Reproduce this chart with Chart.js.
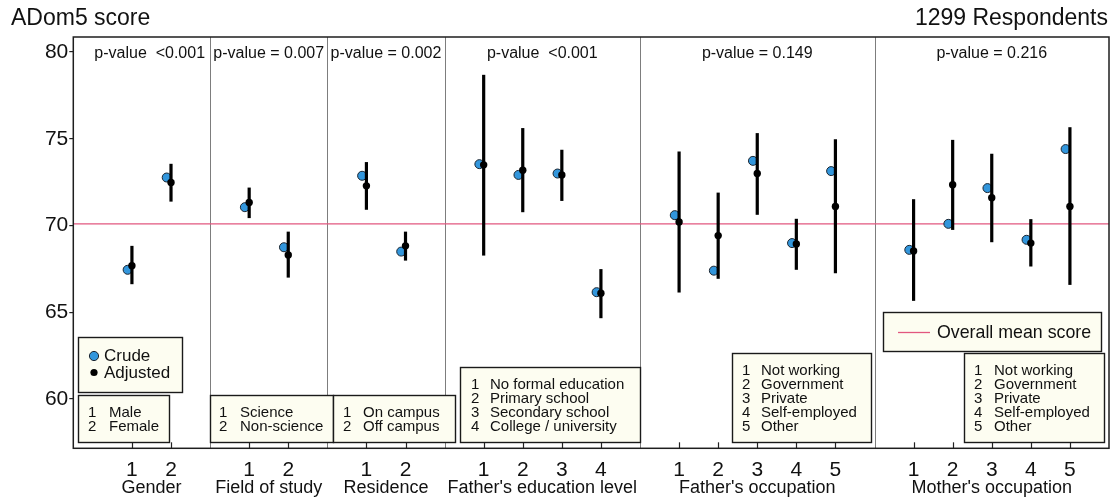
<!DOCTYPE html>
<html>
<head>
<meta charset="utf-8">
<script src="https://cdn.jsdelivr.net/npm/chart.js@4/dist/chart.umd.min.js"></script>
<style>
  html, body { margin: 0; padding: 0; background: #ffffff; }
  #wrap { width: 1119px; height: 499px; position: relative; }
</style>
</head>
<body>
<div id="wrap"><canvas id="chart" width="1119" height="499"></canvas></div>
<script>
// ---- data ----
const groupNames = ['Gender', 'Field of study', 'Residence', "Father's education level", "Father's occupation", "Mother's occupation"];
const groupSizes = [2, 2, 2, 4, 5, 5];
const pValueLabels = ['p-value  <0.001', 'p-value = 0.007', 'p-value = 0.002', 'p-value  <0.001', 'p-value = 0.149', 'p-value = 0.216'];
const levelLabels = ['1', '2', '1', '2', '1', '2', '1', '2', '3', '4', '1', '2', '3', '4', '5', '1', '2', '3', '4', '5'];
const crudeScores = [67.45, 72.77, 71.06, 68.75, 72.87, 68.50, 73.54, 72.92, 73.00, 66.16, 70.60, 67.40, 73.73, 68.99, 73.14, 68.60, 70.10, 72.16, 69.18, 74.41];
const adjustedScores = [67.69, 72.48, 71.33, 68.31, 72.29, 68.83, 73.50, 73.19, 72.92, 66.10, 70.21, 69.42, 73.00, 68.94, 71.10, 68.54, 72.35, 71.60, 68.99, 71.10];
const ciLower = [66.62, 71.38, 70.43, 67.00, 70.91, 67.98, 68.27, 70.77, 71.42, 64.66, 66.14, 66.93, 70.62, 67.45, 67.25, 65.66, 69.75, 69.04, 67.64, 66.58];
const ciUpper = [68.83, 73.56, 72.19, 69.65, 73.66, 69.65, 78.69, 75.62, 74.37, 67.49, 74.27, 71.90, 75.33, 70.39, 74.98, 71.52, 74.94, 74.14, 70.37, 75.67];
const overallMean = 70.1;
const yTickValues = [60, 65, 70, 75, 80];
const genderKey = ['Male', 'Female'];
const fieldKey = ['Science', 'Non-science'];
const residenceKey = ['On campus', 'Off campus'];
const fatherEduKey = ['No formal education', 'Primary school', 'Secondary school', 'College / university'];
const fatherOccKey = ['Not working', 'Government', 'Private', 'Self-employed', 'Other'];
const motherOccKey = ['Not working', 'Government', 'Private', 'Self-employed', 'Other'];
const yAxisTitle = 'ADom5 score';
const respondentsLabel = '1299 Respondents';

// ---- layout of categories along the x axis ----
const positions = [];
const dividers = [];
const groupCenters = [];
let cursor = 0.5;
groupSizes.forEach((n, g) => {
  const start = positions.length;
  for (let i = 0; i < n; i++) positions.push(cursor + 1 + i);
  groupCenters.push((positions[start] + positions[start + n - 1]) / 2);
  cursor += n + 1;
  if (g < groupSizes.length - 1) dividers.push(cursor);
});
const xMax = cursor;
const crudeOffset = -0.11;

const FONT = '"Liberation Sans", Arial, Helvetica, sans-serif';
const BLUE = '#3296dc';
const MEAN_RED = '#e2577f';
const BOX_FILL = '#fdfdf1';

const crudePoints = crudeScores.map((v, i) => ({ x: positions[i] + crudeOffset, y: v }));
const adjustedPoints = adjustedScores.map((v, i) => ({ x: positions[i], y: v }));

// key boxes: [left, top, right, bottom] in canvas px, with their lines
const keyBoxes = [
  { rect: [78, 395, 169, 442], numX: 88, textX: 109, lines: genderKey },
  { rect: [210, 395, 333, 442], numX: 219, textX: 240, lines: fieldKey },
  { rect: [333, 395, 455, 442], numX: 343, textX: 363, lines: residenceKey },
  { rect: [460, 367, 640, 442], numX: 471, textX: 490, lines: fatherEduKey },
  { rect: [732, 353, 871, 442], numX: 742, textX: 761, lines: fatherOccKey },
  { rect: [964, 353, 1104, 442], numX: 974, textX: 994, lines: motherOccKey }
];

const decorations = {
  id: 'decorations',
  beforeDatasetsDraw(chart) {
    const { ctx, chartArea: a, scales: { x, y } } = chart;
    ctx.save();
    // panel dividers
    ctx.strokeStyle = '#7d7d7d';
    ctx.lineWidth = 1;
    dividers.forEach(d => {
      const px = Math.round(x.getPixelForValue(d)) + 0.5;
      ctx.beginPath(); ctx.moveTo(px, a.top); ctx.lineTo(px, a.bottom); ctx.stroke();
    });
    // overall mean line
    ctx.strokeStyle = MEAN_RED;
    ctx.lineWidth = 1.3;
    const my = y.getPixelForValue(overallMean);
    ctx.beginPath(); ctx.moveTo(a.left, my); ctx.lineTo(a.right, my); ctx.stroke();
    ctx.restore();
  },
  afterDatasetDraw(chart, args) {
    if (chart.data.datasets[args.index].label !== 'Crude') return;
    const { ctx, scales: { x, y } } = chart;
    ctx.save();
    ctx.strokeStyle = '#000';
    ctx.lineWidth = 3.2;
    ctx.lineCap = 'butt';
    positions.forEach((p, i) => {
      const px = x.getPixelForValue(p);
      ctx.beginPath();
      ctx.moveTo(px, y.getPixelForValue(ciLower[i]));
      ctx.lineTo(px, y.getPixelForValue(ciUpper[i]));
      ctx.stroke();
    });
    ctx.restore();
  },
  afterDraw(chart) {
    const { ctx, chartArea: a, scales: { x, y } } = chart;
    ctx.save();
    // inner tick marks on the x axis
    ctx.strokeStyle = '#222';
    ctx.lineWidth = 1.2;
    positions.forEach(p => {
      const px = Math.round(x.getPixelForValue(p)) + 0.5;
      ctx.beginPath(); ctx.moveTo(px, a.bottom); ctx.lineTo(px, a.bottom - 6); ctx.stroke();
    });

    // key boxes
    ctx.textBaseline = 'middle';
    keyBoxes.forEach(b => {
      const [l, t, r, btm] = b.rect;
      ctx.fillStyle = BOX_FILL;
      ctx.fillRect(l, t, r - l, btm - t);
      ctx.strokeStyle = '#1a1a1a';
      ctx.lineWidth = 1.4;
      ctx.strokeRect(l + 0.5, t + 0.5, r - l, btm - t);
      ctx.fillStyle = '#111';
      ctx.font = '15px ' + FONT;
      const n = b.lines.length;
      b.lines.forEach((txt, i) => {
        const cy = btm - 15.5 - (n - 1 - i) * 13.9;
        ctx.textAlign = 'left';
        ctx.fillText(String(i + 1), b.numX, cy);
        ctx.fillText(txt, b.textX, cy);
      });
    });

    // Crude / Adjusted legend
    ctx.fillStyle = BOX_FILL;
    ctx.fillRect(78, 337, 104, 55);
    ctx.strokeStyle = '#1a1a1a';
    ctx.lineWidth = 1.4;
    ctx.strokeRect(78.5, 337.5, 104, 55);
    ctx.beginPath(); ctx.arc(94, 356, 4.6, 0, Math.PI * 2);
    ctx.fillStyle = BLUE; ctx.fill();
    ctx.lineWidth = 1; ctx.strokeStyle = '#1b2530'; ctx.stroke();
    ctx.beginPath(); ctx.arc(94, 372.5, 3.6, 0, Math.PI * 2);
    ctx.fillStyle = '#000'; ctx.fill();
    ctx.fillStyle = '#111';
    ctx.font = '17px ' + FONT;
    ctx.textAlign = 'left';
    ctx.fillText('Crude', 104, 356);
    ctx.fillText('Adjusted', 104, 373);

    // overall mean legend
    ctx.fillStyle = BOX_FILL;
    ctx.fillRect(883, 312, 218, 39);
    ctx.strokeStyle = '#1a1a1a';
    ctx.lineWidth = 1.4;
    ctx.strokeRect(883.5, 312.5, 218, 39);
    ctx.strokeStyle = MEAN_RED;
    ctx.lineWidth = 1.3;
    ctx.beginPath(); ctx.moveTo(898, 332.5); ctx.lineTo(930, 332.5); ctx.stroke();
    ctx.fillStyle = '#111';
    ctx.font = '17.8px ' + FONT;
    ctx.fillText('Overall mean score', 937, 333);

    // p-values
    ctx.font = '16px ' + FONT;
    ctx.textAlign = 'center';
    const edges = [x.min].concat(dividers, [x.max]);
    pValueLabels.forEach((t, g) => {
      let cx = (x.getPixelForValue(edges[g]) + x.getPixelForValue(edges[g + 1])) / 2;
      if (g === 0) cx += 8;
      ctx.fillText(t, cx, 53.5);
    });

    // group names under the tick labels
    ctx.font = '18px ' + FONT;
    groupNames.forEach((name, g) => {
      ctx.fillText(name, x.getPixelForValue(groupCenters[g]), 488);
    });

    // header texts
    ctx.font = '23px ' + FONT;
    ctx.textAlign = 'left';
    ctx.fillText(yAxisTitle, 11, 19);
    ctx.textAlign = 'right';
    ctx.fillText(respondentsLabel, 1108, 19);

    // frame around the plotting area
    ctx.strokeStyle = '#1e1e1e';
    ctx.lineWidth = 1.5;
    ctx.strokeRect(a.left, a.top, a.right - a.left, a.bottom - a.top);
    ctx.restore();
  }
};

new Chart(document.getElementById('chart'), {
  type: 'scatter',
  data: {
    datasets: [
      {
        label: 'Adjusted',
        data: adjustedPoints,
        order: 1,
        pointRadius: 3.7,
        pointHoverRadius: 3.7,
        pointBackgroundColor: '#000',
        pointBorderColor: '#000',
        pointBorderWidth: 0
      },
      {
        label: 'Crude',
        data: crudePoints,
        order: 2,
        pointRadius: 4.5,
        pointHoverRadius: 4.5,
        pointBackgroundColor: BLUE,
        pointBorderColor: '#1b2530',
        pointBorderWidth: 1
      }
    ]
  },
  options: {
    responsive: false,
    animation: false,
    devicePixelRatio: 1,
    layout: { padding: { top: 37, right: 10, left: 0, bottom: 0 } },
    plugins: { legend: { display: false }, tooltip: { enabled: false } },
    scales: {
      x: {
        type: 'linear',
        min: 0,
        max: xMax,
        afterBuildTicks(scale) { scale.ticks = positions.map(v => ({ value: v })); },
        afterFit(scale) { scale.height = 50.7; },
        grid: { display: false },
        border: { display: false },
        ticks: {
          autoSkip: false,
          maxRotation: 0,
          padding: 1,
          color: '#111',
          font: { family: FONT, size: 21 },
          callback: (v, i) => levelLabels[i]
        }
      },
      y: {
        min: 57.16,
        max: 80.87,
        afterBuildTicks(scale) { scale.ticks = yTickValues.map(v => ({ value: v })); },
        afterFit(scale) { scale.width = 73.3; },
        grid: { drawOnChartArea: false, drawTicks: true, tickLength: 4, color: '#222', lineWidth: 1.2 },
        border: { display: false },
        ticks: {
          padding: 1,
          color: '#111',
          font: { family: FONT, size: 21 }
        }
      }
    }
  },
  plugins: [decorations]
});
</script>
</body>
</html>
